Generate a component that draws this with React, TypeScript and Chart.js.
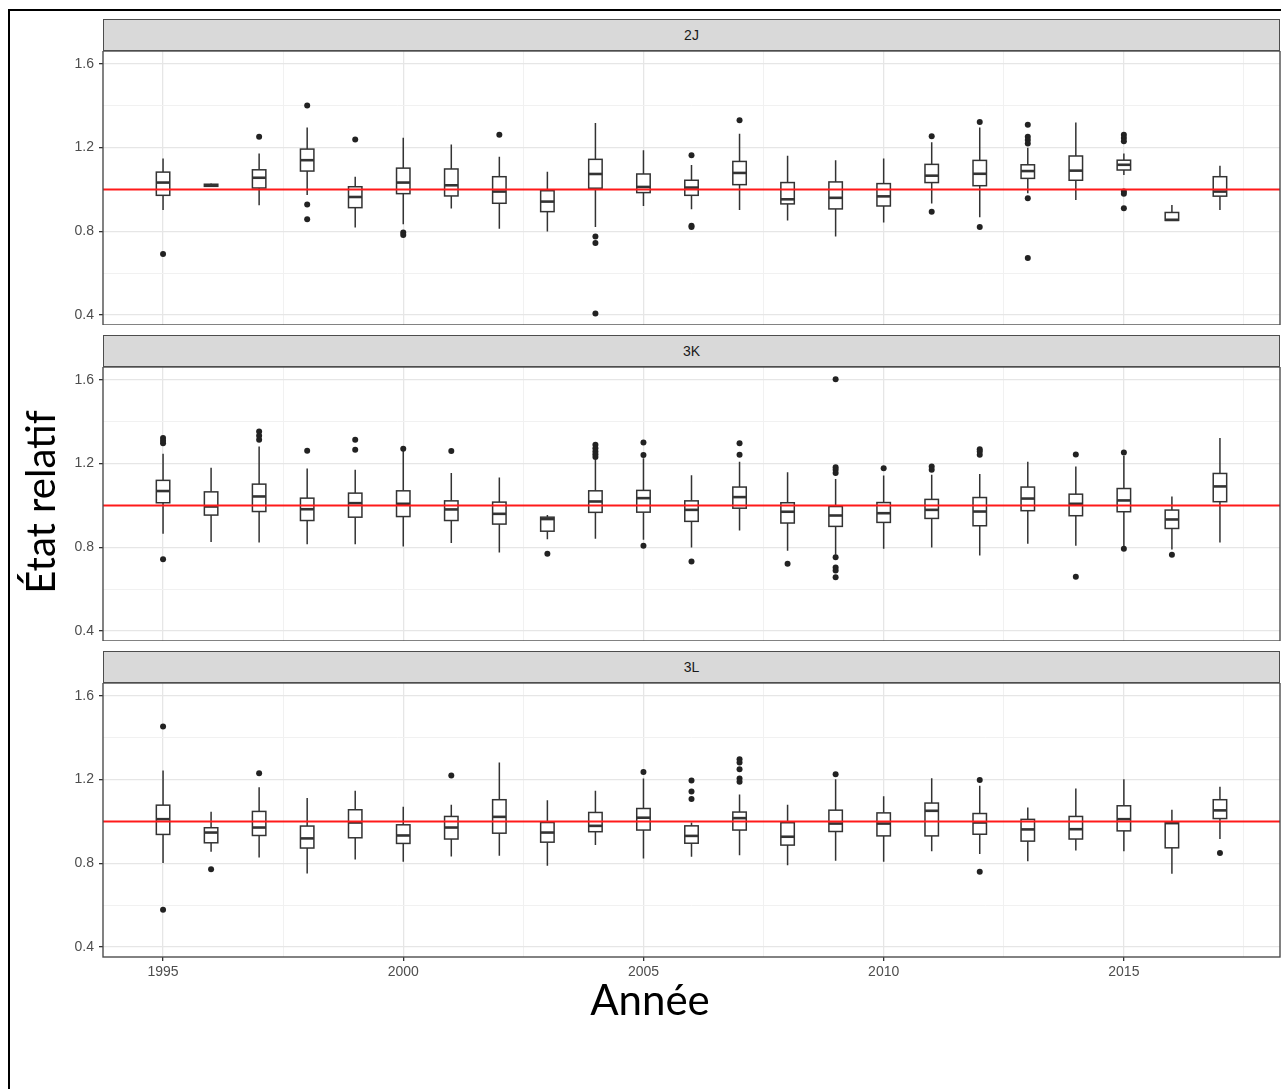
import React, { useEffect, useRef } from 'react';
import { Chart, registerables } from 'chart.js';

Chart.register(...registerables);

// ---------- data ----------
const YEARS = [1995, 1996, 1997, 1998, 1999, 2000, 2001, 2002, 2003, 2004, 2005, 2006, 2007, 2008, 2009, 2010, 2011, 2012, 2013, 2014, 2015, 2016, 2017];

const PANEL_NAMES = ['2J', '3K', '3L'];

const J2_LOW = [0.902, 1.012, 0.925, 0.974, 0.818, 0.834, 0.909, 0.812, 0.799, 0.820, 0.921, 0.906, 0.902, 0.852, 0.775, 0.842, 0.933, 0.867, 0.982, 0.950, 1.069, 0.851, 0.902];
const J2_Q1 = [0.972, 1.015, 1.007, 1.088, 0.913, 0.980, 0.969, 0.934, 0.894, 1.006, 0.985, 0.972, 1.023, 0.931, 0.907, 0.921, 1.033, 1.018, 1.053, 1.044, 1.093, 0.852, 0.968];
const J2_MED = [1.033, 1.020, 1.056, 1.140, 0.964, 1.033, 1.020, 0.990, 0.942, 1.074, 1.012, 1.009, 1.079, 0.953, 0.960, 0.967, 1.066, 1.075, 1.088, 1.090, 1.118, 0.855, 0.990];
const J2_Q3 = [1.083, 1.025, 1.094, 1.193, 1.013, 1.102, 1.098, 1.061, 0.994, 1.144, 1.074, 1.044, 1.134, 1.033, 1.036, 1.028, 1.120, 1.139, 1.118, 1.160, 1.140, 0.890, 1.061];
const J2_HIGH = [1.148, 1.028, 1.172, 1.296, 1.061, 1.247, 1.215, 1.156, 1.085, 1.318, 1.188, 1.117, 1.266, 1.161, 1.140, 1.148, 1.226, 1.296, 1.199, 1.320, 1.172, 0.926, 1.113];
const J2_OUT = [[0.691], [], [1.252], [1.402, 0.928, 0.858], [1.239], [0.794, 0.782], [], [1.261], [], [0.775, 0.744, 0.407], [], [1.164, 0.826, 0.820], [1.331], [], [], [], [1.255, 0.893], [1.323, 0.821], [1.309, 1.252, 1.236, 1.220, 0.958, 0.672], [], [1.262, 1.246, 1.231, 0.990, 0.979, 0.910], [], []];

const K3_LOW = [0.865, 0.825, 0.823, 0.815, 0.814, 0.804, 0.820, 0.775, 0.839, 0.841, 0.836, 0.799, 0.880, 0.783, 0.764, 0.793, 0.799, 0.761, 0.817, 0.807, 0.805, 0.790, 0.823];
const K3_Q1 = [1.013, 0.954, 0.971, 0.928, 0.944, 0.947, 0.928, 0.911, 0.877, 0.967, 0.968, 0.924, 0.987, 0.916, 0.900, 0.919, 0.938, 0.903, 0.975, 0.951, 0.970, 0.890, 1.018];
const K3_MED = [1.069, 0.995, 1.043, 0.982, 1.011, 1.008, 0.981, 0.960, 0.935, 1.019, 1.035, 0.979, 1.040, 0.970, 0.952, 0.963, 0.979, 0.971, 1.033, 1.008, 1.024, 0.933, 1.091];
const K3_Q3 = [1.120, 1.065, 1.102, 1.035, 1.059, 1.070, 1.022, 1.016, 0.944, 1.070, 1.072, 1.022, 1.088, 1.013, 0.995, 1.014, 1.029, 1.038, 1.088, 1.054, 1.081, 0.978, 1.153];
const K3_HIGH = [1.247, 1.180, 1.282, 1.177, 1.171, 1.262, 1.155, 1.134, 0.955, 1.218, 1.226, 1.145, 1.209, 1.159, 1.126, 1.143, 1.147, 1.151, 1.209, 1.186, 1.238, 1.043, 1.322];
const K3_OUT = [[1.322, 1.309, 1.298, 0.743], [], [1.354, 1.333, 1.314], [1.261], [1.314, 1.266], [1.271], [1.260], [], [0.769], [1.290, 1.274, 1.258, 1.245, 1.232], [1.301, 1.241, 0.807], [0.732], [1.298, 1.242], [0.721], [1.604, 1.183, 1.171, 1.155, 0.753, 0.704, 0.689, 0.657], [1.178], [1.186, 1.171], [1.269, 1.258, 1.242], [], [1.244, 0.659], [1.253, 0.793], [0.764], []];

const L3_LOW = [0.801, 0.855, 0.828, 0.751, 0.818, 0.807, 0.833, 0.836, 0.788, 0.888, 0.823, 0.831, 0.839, 0.791, 0.812, 0.807, 0.858, 0.844, 0.810, 0.861, 0.857, 0.750, 0.916];
const L3_Q1 = [0.938, 0.898, 0.933, 0.873, 0.922, 0.895, 0.916, 0.944, 0.901, 0.951, 0.959, 0.896, 0.959, 0.887, 0.952, 0.931, 0.931, 0.939, 0.906, 0.916, 0.955, 0.874, 1.014];
const L3_MED = [1.011, 0.947, 0.971, 0.919, 0.995, 0.933, 0.971, 1.022, 0.947, 0.979, 1.018, 0.931, 1.016, 0.927, 0.990, 0.990, 1.051, 0.995, 0.962, 0.963, 1.011, 0.992, 1.053];
const L3_Q3 = [1.078, 0.970, 1.048, 0.978, 1.056, 0.984, 1.024, 1.104, 0.995, 1.043, 1.062, 0.979, 1.045, 0.994, 1.054, 1.041, 1.088, 1.038, 1.010, 1.024, 1.075, 0.995, 1.104];
const L3_HIGH = [1.244, 1.046, 1.163, 1.112, 1.147, 1.070, 1.080, 1.282, 1.102, 1.147, 1.206, 0.995, 1.129, 1.080, 1.202, 1.120, 1.207, 1.171, 1.067, 1.158, 1.202, 1.056, 1.166];
const L3_OUT = [[1.454, 0.578], [0.771], [1.231], [], [], [], [1.220], [], [], [], [1.237], [1.196, 1.143, 1.107], [1.298, 1.282, 1.250, 1.205, 1.190], [], [1.226], [], [], [1.198, 0.759], [], [], [], [], [0.849]];

const X_MIN = 1993.75;
const X_MAX = 2018.25;
const Y_MIN = 0.352;
const Y_MAX = 1.662;
const X_TICKS = [1995, 1997.5, 2000, 2002.5, 2005, 2007.5, 2010, 2012.5, 2015, 2017.5];
const X_MAJOR = [1995, 2000, 2005, 2010, 2015];
const Y_TICKS = [0.4, 0.6, 0.8, 1.0, 1.2, 1.4, 1.6];
const Y_MAJOR = [0.4, 0.8, 1.2, 1.6];
const REF_VALUE = 1.0;
const X_TITLE = 'Année';
const Y_TITLE = 'État relatif';

// ---------- layout ----------
const PLOT_TOPS = [51, 367, 683];
const PLOT_H = 274;
const PLOT_LEFT = 103;
const PLOT_RIGHT = 1280;
const STRIP_H = 32;
const CANVAS_LEFT = 20;
const X_AXIS_H = 34;
const BOX_HALF = 0.14;

type Stat = { year: number; lo: number; q1: number; med: number; q3: number; hi: number; out: number[] };

function buildStats(lo: number[], q1: number[], med: number[], q3: number[], hi: number[], out: number[][]): Stat[] {
  return YEARS.map((year, i) => ({ year, lo: lo[i], q1: q1[i], med: med[i], q3: q3[i], hi: hi[i], out: out[i] }));
}

const PANEL_STATS: Stat[][] = [
  buildStats(J2_LOW, J2_Q1, J2_MED, J2_Q3, J2_HIGH, J2_OUT),
  buildStats(K3_LOW, K3_Q1, K3_MED, K3_Q3, K3_HIGH, K3_OUT),
  buildStats(L3_LOW, L3_Q1, L3_MED, L3_Q3, L3_HIGH, L3_OUT),
];

const isIn = (list: number[], v: any) => typeof v === 'number' && list.some((m) => Math.abs(m - v) < 1e-6);

const TICK_FONT = { family: '"Liberation Sans", Arial, sans-serif', size: 14 };

function makeBoxPlugin(stats: Stat[]) {
  return {
    id: 'boxes',
    beforeDatasetsDraw(chart: any) {
      const { ctx, chartArea, scales } = chart;
      const x = scales.x;
      const y = scales.y;
      ctx.save();
      ctx.beginPath();
      ctx.rect(chartArea.left, chartArea.top, chartArea.right - chartArea.left, chartArea.bottom - chartArea.top);
      ctx.clip();
      ctx.strokeStyle = '#333333';
      stats.forEach((s) => {
        const xc = x.getPixelForValue(s.year);
        const xl = x.getPixelForValue(s.year - BOX_HALF);
        const xr = x.getPixelForValue(s.year + BOX_HALF);
        const pLo = y.getPixelForValue(s.lo);
        const pQ1 = y.getPixelForValue(s.q1);
        const pMed = y.getPixelForValue(s.med);
        const pQ3 = y.getPixelForValue(s.q3);
        const pHi = y.getPixelForValue(s.hi);
        ctx.lineWidth = 1.5;
        ctx.beginPath();
        ctx.moveTo(xc, pHi);
        ctx.lineTo(xc, pQ3);
        ctx.moveTo(xc, pQ1);
        ctx.lineTo(xc, pLo);
        ctx.stroke();
        ctx.fillStyle = '#ffffff';
        ctx.fillRect(xl, pQ3, xr - xl, pQ1 - pQ3);
        ctx.strokeRect(xl, pQ3, xr - xl, pQ1 - pQ3);
        ctx.lineWidth = 2.6;
        ctx.beginPath();
        ctx.moveTo(xl, pMed);
        ctx.lineTo(xr, pMed);
        ctx.stroke();
      });
      ctx.restore();
    },
    afterDraw(chart: any) {
      const { ctx, chartArea } = chart;
      ctx.save();
      ctx.strokeStyle = '#4d4d4d';
      ctx.lineWidth = 1.4;
      ctx.strokeRect(chartArea.left, chartArea.top, chartArea.right - chartArea.left, chartArea.bottom - chartArea.top);
      ctx.restore();
    },
  };
}

function Panel({ index }: { index: number }) {
  const ref = useRef<HTMLCanvasElement | null>(null);
  const showX = index === 2;
  const width = 1281 - CANVAS_LEFT;
  const height = PLOT_H + (showX ? X_AXIS_H : 0);

  useEffect(() => {
    if (!ref.current) return;
    const stats = PANEL_STATS[index];
    const outliers: { x: number; y: number }[] = [];
    stats.forEach((s) => s.out.forEach((v) => outliers.push({ x: s.year, y: v })));

    const chart = new Chart(ref.current, {
      type: 'scatter',
      data: {
        datasets: [
          {
            type: 'line',
            data: [
              { x: X_MIN, y: REF_VALUE },
              { x: X_MAX, y: REF_VALUE },
            ],
            borderColor: '#ff1a1a',
            borderWidth: 2,
            pointRadius: 0,
            fill: false,
            order: 0,
          } as any,
          {
            type: 'scatter',
            data: outliers,
            pointRadius: 3,
            pointBackgroundColor: '#222222',
            pointBorderWidth: 0,
            pointBorderColor: '#222222',
            order: 1,
          } as any,
        ],
      },
      options: {
        animation: false,
        responsive: false,
        events: [],
        layout: { autoPadding: false, padding: { left: 0, right: 1, top: 0, bottom: 0 } },
        plugins: { legend: { display: false }, tooltip: { enabled: false }, title: { display: false } },
        scales: {
          x: {
            type: 'linear',
            min: X_MIN,
            max: X_MAX,
            afterBuildTicks: (s: any) => {
              s.ticks = X_TICKS.map((v) => ({ value: v }));
            },
            afterFit: (s: any) => {
              s.height = showX ? X_AXIS_H : 0;
              s.paddingLeft = 0;
              s.paddingRight = 0;
            },
            border: { display: false },
            grid: {
              color: (c: any) => (isIn(X_MAJOR, c.tick && c.tick.value) ? '#e6e6e6' : '#f1f1f1'),
              lineWidth: (c: any) => (isIn(X_MAJOR, c.tick && c.tick.value) ? 1.3 : 1),
              drawTicks: showX,
              tickLength: 4,
              tickWidth: 1.3,
              tickColor: (c: any) => (isIn(X_MAJOR, c.tick && c.tick.value) ? '#333333' : 'rgba(0,0,0,0)'),
            },
            ticks: {
              display: showX,
              autoSkip: false,
              maxRotation: 0,
              padding: 3,
              color: '#4d4d4d',
              font: TICK_FONT,
              callback: (v: any) => (isIn(X_MAJOR, v) ? String(v) : ''),
            },
          },
          y: {
            type: 'linear',
            min: Y_MIN,
            max: Y_MAX,
            afterBuildTicks: (s: any) => {
              s.ticks = Y_TICKS.map((v) => ({ value: v }));
            },
            afterFit: (s: any) => {
              s.width = PLOT_LEFT - CANVAS_LEFT;
              s.paddingTop = 0;
              s.paddingBottom = 0;
            },
            border: { display: false },
            grid: {
              color: (c: any) => (isIn(Y_MAJOR, c.tick && c.tick.value) ? '#e6e6e6' : '#f1f1f1'),
              lineWidth: (c: any) => (isIn(Y_MAJOR, c.tick && c.tick.value) ? 1.3 : 1),
              drawTicks: true,
              tickLength: 4,
              tickWidth: 1.3,
              tickColor: (c: any) => (isIn(Y_MAJOR, c.tick && c.tick.value) ? '#333333' : 'rgba(0,0,0,0)'),
            },
            ticks: {
              autoSkip: false,
              padding: 5,
              color: '#4d4d4d',
              font: TICK_FONT,
              callback: (v: any) => (isIn(Y_MAJOR, v) ? Number(v).toFixed(1) : ''),
            },
          },
        },
      } as any,
      plugins: [makeBoxPlugin(stats)],
    } as any);
    return () => chart.destroy();
  }, [index]);

  return (
    <canvas
      ref={ref}
      width={width}
      height={height}
      style={{ position: 'absolute', left: CANVAS_LEFT, top: PLOT_TOPS[index], width, height, display: 'block' }}
    />
  );
}

function Strip({ index }: { index: number }) {
  return (
    <div
      style={{
        position: 'absolute',
        left: PLOT_LEFT,
        top: PLOT_TOPS[index] - STRIP_H,
        width: PLOT_RIGHT - PLOT_LEFT,
        height: STRIP_H,
        boxSizing: 'border-box',
        background: '#d9d9d9',
        border: '1.3px solid #4d4d4d',
        color: '#1a1a1a',
        fontFamily: '"Liberation Sans", Arial, sans-serif',
        fontSize: 14,
        lineHeight: STRIP_H - 2 + 'px',
        textAlign: 'center',
      }}
    >
      {PANEL_NAMES[index]}
    </div>
  );
}

export default function App() {
  return (
    <div
      style={{
        position: 'fixed',
        left: 0,
        top: 0,
        width: 1281,
        height: 1089,
        background: '#ffffff',
        overflow: 'hidden',
      }}
    >
      <div
        style={{
          position: 'absolute',
          left: 8,
          top: 9,
          width: 1300,
          height: 1100,
          borderTop: '2px solid #000',
          borderLeft: '2px solid #000',
        }}
      />
      {[0, 1, 2].map((i) => (
        <Strip key={'s' + i} index={i} />
      ))}
      {[0, 1, 2].map((i) => (
        <Panel key={'p' + i} index={i} />
      ))}
      <div
        style={{
          position: 'absolute',
          left: 450,
          width: 400,
          top: 978,
          textAlign: 'center',
          fontFamily: 'Lato, "Open Sans", sans-serif',
          fontSize: 42,
          lineHeight: '42px',
          color: '#000',
          whiteSpace: 'nowrap',
        }}
      >
        {X_TITLE}
      </div>
      <div
        style={{
          position: 'absolute',
          left: 40 - 200,
          width: 400,
          top: 502 - 21,
          height: 42,
          textAlign: 'center',
          fontFamily: 'Lato, "Open Sans", sans-serif',
          fontSize: 40,
          lineHeight: '42px',
          color: '#000',
          whiteSpace: 'nowrap',
          transform: 'rotate(-90deg)',
          transformOrigin: '50% 50%',
        }}
      >
        {Y_TITLE}
      </div>
    </div>
  );
}
